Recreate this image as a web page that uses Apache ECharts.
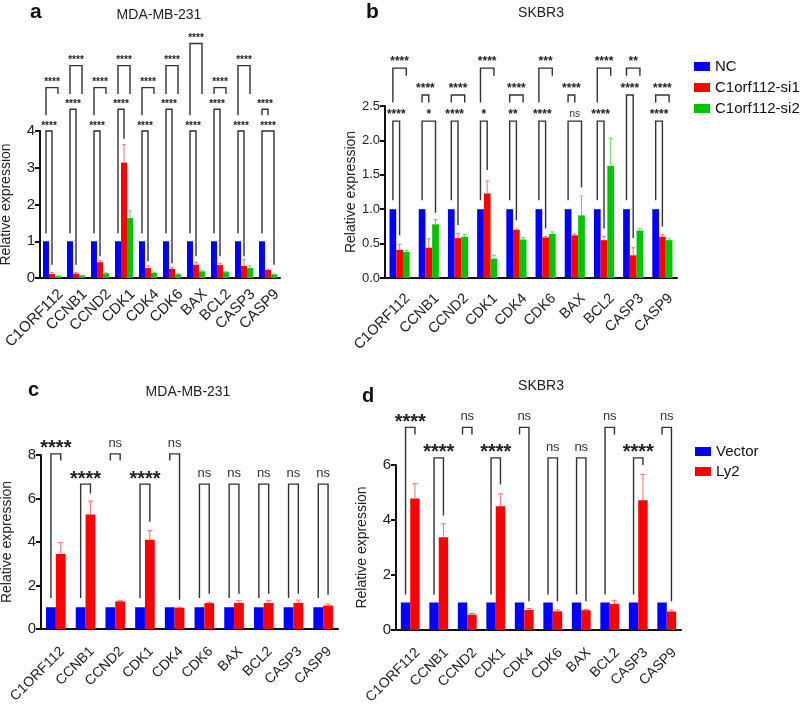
<!DOCTYPE html>
<html>
<head>
<meta charset="utf-8">
<script src="https://cdn.jsdelivr.net/npm/echarts@6/dist/echarts.min.js"></script>
<style>html,body{margin:0;padding:0;background:#fff}#chart{width:800px;height:707px}</style>
</head>
<body>
<div id="chart"></div>
<script>
// ---------- DATA ----------
const categories = ['C1ORF112','CCNB1','CCND2','CDK1','CDK4','CDK6','BAX','BCL2','CASP3','CASP9'];

// Panel a: MDA-MB-231, siRNA
const aNC      = [1,1,1,1,1,1,1,1,1,1];
const aSi1     = [0.11,0.12,0.43,3.14,0.27,0.25,0.36,0.35,0.33,0.22];
const aSi1Err  = [0.04,0.03,0.04,0.49,0.06,0.04,0.07,0.05,0.17,0.02];
const aSi2     = [0.05,0.07,0.13,1.63,0.14,0.10,0.18,0.16,0.27,0.10];
const aSi2Err  = [0.01,0.01,0.01,0.20,0.02,0.02,0.02,0.02,0.06,0.01];
// brackets: [group, barA, barB, top, legA end, legB end]
const aBrackets = [
  [0,0,1,4.00,1.22,0.36],[0,0,2,5.18,4.43,5.01],
  [1,0,1,4.59,1.22,0.36],[1,0,2,5.78,5.01,5.01],
  [2,0,1,4.00,1.22,0.59],[2,0,2,5.18,4.43,5.01],
  [3,0,1,4.59,1.22,3.79],[3,0,2,5.78,5.01,5.01],
  [4,0,1,4.00,1.22,0.45],[4,0,2,5.18,4.43,5.01],
  [5,0,1,4.59,1.22,0.40],[5,0,2,5.78,5.01,5.01],
  [6,0,1,4.00,1.22,0.59],[6,0,2,6.38,4.43,5.01],
  [7,0,1,4.59,1.22,0.59],[7,0,2,5.18,5.01,5.01],
  [8,0,1,4.00,1.22,0.59],[8,0,2,5.78,4.43,5.01],
  [9,0,2,4.00,1.22,0.36],[9,0,1,4.59,4.43,4.43]
];
const aLabels = ['****','****','****','****','****','****','****','****','****','****',
                 '****','****','****','****','****','****','****','****','****','****'];

// Panel b: SKBR3, siRNA
const bNC      = [1,1,1,1,1,1,1,1,1,1];
const bSi1     = [0.41,0.44,0.58,1.23,0.70,0.59,0.62,0.55,0.33,0.60];
const bSi1Err  = [0.08,0.13,0.07,0.18,0.01,0.01,0.02,0.05,0.11,0.03];
const bSi2     = [0.38,0.78,0.60,0.28,0.56,0.64,0.91,1.63,0.69,0.55];
const bSi2Err  = [0.02,0.07,0.03,0.05,0.03,0.03,0.28,0.40,0.03,0.02];
const bBrackets = [
  [0,0,2,3.05,2.55,2.94],[0,0,1,2.28,1.13,0.62],
  [1,0,1,2.66,2.55,2.55],[1,0,2,2.28,1.13,0.95],
  [2,0,2,2.66,2.55,2.55],[2,0,1,2.28,1.13,0.77],
  [3,0,2,3.05,2.55,2.94],[3,0,1,2.28,1.13,1.57],
  [4,0,2,2.66,2.55,2.55],[4,0,1,2.28,1.13,0.84],
  [5,0,2,3.05,2.55,2.94],[5,0,1,2.28,1.13,0.72],
  [6,0,1,2.66,2.55,2.55],[6,0,2,2.28,1.13,1.32],
  [7,0,2,3.05,2.55,2.94],[7,0,1,2.28,1.13,0.72],
  [8,0,2,3.05,2.94,2.94],[8,0,1,2.66,1.13,0.58],
  [9,0,2,2.66,2.55,2.55],[9,0,1,2.28,1.13,0.75]
];
const bLabels = ['****','****','****','*','****','****','****','*','****','**',
                 '***','****','****','ns','****','****','**','****','****','****'];

// Panel c: MDA-MB-231, overexpression
const cVector  = [1,1,1,1,1,1,1,1,1,1];
const cLy2     = [3.45,5.27,1.27,4.10,0.98,1.19,1.20,1.20,1.20,1.08];
const cLy2Err  = [0.52,0.61,0.05,0.42,0.02,0.04,0.10,0.10,0.13,0.07];
const cBrackets = [
  [0,0,1,8.05,1.43,7.75],[1,0,1,6.66,1.43,6.23],[2,0,1,8.05,7.75,7.75],
  [3,0,1,6.66,1.43,4.93],[4,0,1,8.05,7.75,1.34],[5,0,1,6.66,1.43,1.62],
  [6,0,1,6.66,1.43,1.62],[7,0,1,6.66,1.43,1.62],[8,0,1,6.66,1.43,1.62],
  [9,0,1,6.66,1.43,1.57]
];
const cLabels = ['****','****','ns','****','ns','ns','ns','ns','ns','ns'];

// Panel d: SKBR3, overexpression
const dVector  = [1,1,1,1,1,1,1,1,1,1];
const dLy2     = [4.78,3.37,0.56,4.50,0.73,0.68,0.72,0.95,4.72,0.67];
const dLy2Err  = [0.54,0.49,0.04,0.45,0.05,0.05,0.03,0.13,0.93,0.05];
const dBrackets = [
  [0,0,1,7.37,1.29,7.11],[1,0,1,6.26,1.29,4.16],[2,0,1,7.37,7.11,7.11],
  [3,0,1,6.26,1.29,5.29],[4,0,1,7.37,7.11,1.05],[5,0,1,6.26,1.29,1.05],
  [6,0,1,6.26,1.29,1.05],[7,0,1,7.37,1.29,7.11],[8,0,1,6.26,1.29,6.00],
  [9,0,1,7.37,7.11,1.05]
];
const dLabels = ['****','****','ns','****','ns','ns','ns','ns','****','ns'];

// ---------- STYLE ----------
const FONT = 'Arial, "Liberation Sans", Helvetica, sans-serif';
const BLUE = '#0000ff', RED = '#ff0000', GREEN = '#00c400';
const AX = '#111';

function offsetFor(api, idx, nBars, frac) {
  const band = api.size([1, 0])[0];
  const w = band * frac;
  return -nBars * w / 2 + w * (idx + 0.5);
}

function errSeries(grid, vals, errs, barIdx, nBars, frac, color) {
  return {
    type: 'custom', name: 'err' + grid + barIdx, xAxisIndex: grid, yAxisIndex: grid,
    z: 4, silent: true, clip: false,
    data: vals.map((v, i) => [i, v, v + errs[i]]),
    renderItem: function (params, api) {
      const band = api.size([1, 0])[0];
      const w = band * frac;
      const cx = api.coord([api.value(0), 0])[0] + offsetFor(api, barIdx, nBars, frac);
      const y0 = api.coord([api.value(0), api.value(1)])[1];
      const y1 = api.coord([api.value(0), api.value(2)])[1];
      const cap = w * 0.28;
      return { type: 'group', children: [
        { type: 'line', shape: { x1: cx, y1: y0, x2: cx, y2: y1 }, style: { stroke: color, lineWidth: 1 } },
        { type: 'line', shape: { x1: cx - cap, y1: y1, x2: cx + cap, y2: y1 }, style: { stroke: color, lineWidth: 1 } }
      ]};
    }
  };
}

function bracketSeries(grid, brackets, labels, nBars, frac, starFont, starGap, nsFont, nsGap) {
  return {
    type: 'custom', name: 'br' + grid, xAxisIndex: grid, yAxisIndex: grid,
    z: 5, silent: true, clip: false,
    data: brackets,
    renderItem: function (params, api) {
      const g = api.value(0);
      const cx = api.coord([g, 0])[0];
      const xa = cx + offsetFor(api, api.value(1), nBars, frac);
      const xb = cx + offsetFor(api, api.value(2), nBars, frac);
      const yt = api.coord([g, api.value(3)])[1];
      const ya = api.coord([g, api.value(4)])[1];
      const yb = api.coord([g, api.value(5)])[1];
      const lab = labels[params.dataIndex];
      const isNs = lab === 'ns';
      return { type: 'group', children: [
        { type: 'polyline', shape: { points: [[xa, ya], [xa, yt], [xb, yt], [xb, yb]] },
          style: { stroke: '#333', lineWidth: 1.4, fill: null } },
        { type: 'text', x: (xa + xb) / 2, y: yt - (isNs ? nsGap : starGap),
          style: { text: lab, fill: isNs ? '#333' : '#222', font: isNs ? nsFont : starFont,
                   align: 'center', verticalAlign: 'bottom' } }
      ]};
    }
  };
}

function xAx(grid, fs, margin, pad) {
  return {
    type: 'category', gridIndex: grid, data: categories,
    axisLine: { lineStyle: { color: AX, width: 2 } },
    axisTick: { alignWithLabel: true, length: 5, lineStyle: { color: AX, width: 2 } },
    axisLabel: { rotate: 45, interval: 0, fontSize: fs, color: '#222', fontFamily: FONT,
                 margin: margin, verticalAlign: 'top', align: 'right', padding: [pad, 0, 0, 0] }
  };
}
function yAx(grid, max, interval, fs, fmt) {
  return {
    type: 'value', gridIndex: grid, min: 0, max: max, interval: interval,
    name: 'Relative expression', nameLocation: 'middle', nameGap: 27,
    nameTextStyle: { fontSize: 14, color: '#222', fontFamily: FONT },
    axisLine: { show: true, lineStyle: { color: AX, width: 2 } },
    axisTick: { show: true, length: 5, lineStyle: { color: AX, width: 2 } },
    splitLine: { show: false },
    axisLabel: { fontSize: fs, color: '#222', fontFamily: FONT, margin: 5, formatter: fmt }
  };
}
function bar(name, grid, data, color, w) {
  return { type: 'bar', name: name, xAxisIndex: grid, yAxisIndex: grid, data: data,
    barWidth: w, barGap: '0%', itemStyle: { color: color }, silent: true, z: 3 };
}

const fA = 0.25, fB = 0.23, fC = 0.33, fD = 0.33;

const option = {
  animation: false,
  backgroundColor: '#fff',
  textStyle: { fontFamily: FONT },
  grid: [
    { left: 40, top: 131, width: 240, height: 147, outerBoundsMode: 'none', containLabel: false },
    { left: 385, top: 106, width: 292, height: 172, outerBoundsMode: 'none', containLabel: false },
    { left: 41, top: 455, width: 297, height: 174, outerBoundsMode: 'none', containLabel: false },
    { left: 396, top: 465, width: 285, height: 165, outerBoundsMode: 'none', containLabel: false }
  ],
  xAxis: [xAx(0, 15, 5, 5), xAx(1, 14.5, 10, 4), xAx(2, 14, 14, 2), xAx(3, 14, 13, 3.5)],
  yAxis: [
    yAx(0, 4, 1, 15),
    yAx(1, 2.5, 0.5, 13, v => v.toFixed(1)),
    yAx(2, 8, 2, 15),
    yAx(3, 6, 2, 15)
  ],
  legend: [
    { data: ['NC', 'C1orf112-si1', 'C1orf112-si2'], orient: 'vertical', left: 694, top: 59, padding: 0,
      itemWidth: 16, itemHeight: 9, itemGap: 6, icon: 'rect', selectedMode: false,
      textStyle: { fontSize: 15, color: '#111', fontFamily: FONT } },
    { data: ['Vector', 'Ly2'], orient: 'vertical', left: 695, top: 444, padding: 0,
      itemWidth: 16, itemHeight: 9, itemGap: 5, icon: 'rect', selectedMode: false,
      textStyle: { fontSize: 15, color: '#111', fontFamily: FONT } }
  ],
  graphic: [
    { type: 'text', left: 30, top: 2, style: { text: 'a', font: 'bold 21px ' + FONT, fill: '#111' } },
    { type: 'text', left: 366, top: 2, style: { text: 'b', font: 'bold 21px ' + FONT, fill: '#111' } },
    { type: 'text', left: 28, top: 380, style: { text: 'c', font: 'bold 20px ' + FONT, fill: '#111' } },
    { type: 'text', left: 362, top: 386, style: { text: 'd', font: 'bold 20px ' + FONT, fill: '#111' } },
    { type: 'text', x: 159, y: 15, style: { text: 'MDA-MB-231', font: '14px ' + FONT, fill: '#222', align: 'center', verticalAlign: 'middle' } },
    { type: 'text', x: 541, y: 13, style: { text: 'SKBR3', font: '14px ' + FONT, fill: '#222', align: 'center', verticalAlign: 'middle' } },
    { type: 'text', x: 188, y: 392, style: { text: 'MDA-MB-231', font: '14px ' + FONT, fill: '#222', align: 'center', verticalAlign: 'middle' } },
    { type: 'text', x: 541, y: 386, style: { text: 'SKBR3', font: '14px ' + FONT, fill: '#222', align: 'center', verticalAlign: 'middle' } }
  ],
  series: [
    bar('NC', 0, aNC, BLUE, fA * 100 + '%'),
    bar('C1orf112-si1', 0, aSi1, RED, fA * 100 + '%'),
    bar('C1orf112-si2', 0, aSi2, GREEN, fA * 100 + '%'),
    errSeries(0, aSi1, aSi1Err, 1, 3, fA, '#ff6a6a'),
    errSeries(0, aSi2, aSi2Err, 2, 3, fA, '#5fd65f'),
    bracketSeries(0, aBrackets, aLabels, 3, fA, 'bold 10px ' + FONT, 0, '10px ' + FONT, 1),

    bar('NC', 1, bNC, BLUE, fB * 100 + '%'),
    bar('C1orf112-si1', 1, bSi1, RED, fB * 100 + '%'),
    bar('C1orf112-si2', 1, bSi2, GREEN, fB * 100 + '%'),
    errSeries(1, bSi1, bSi1Err, 1, 3, fB, '#ff6a6a'),
    errSeries(1, bSi2, bSi2Err, 2, 3, fB, '#5fd65f'),
    bracketSeries(1, bBrackets, bLabels, 3, fB, 'bold 12px ' + FONT, 0, '10px ' + FONT, 2),

    bar('Vector', 2, cVector, BLUE, fC * 100 + '%'),
    bar('Ly2', 2, cLy2, RED, fC * 100 + '%'),
    errSeries(2, cLy2, cLy2Err, 1, 2, fC, '#ff6a6a'),
    bracketSeries(2, cBrackets, cLabels, 2, fC, 'bold 20px ' + FONT, -5, '13px ' + FONT, 4),

    bar('Vector', 3, dVector, BLUE, fD * 100 + '%'),
    bar('Ly2', 3, dLy2, RED, fD * 100 + '%'),
    errSeries(3, dLy2, dLy2Err, 1, 2, fD, '#ff6a6a'),
    bracketSeries(3, dBrackets, dLabels, 2, fD, 'bold 20px ' + FONT, -5, '13px ' + FONT, 4)
  ]
};

const chart = echarts.init(document.getElementById('chart'), null, { renderer: 'canvas' });
chart.setOption(option);
</script>
</body>
</html>
